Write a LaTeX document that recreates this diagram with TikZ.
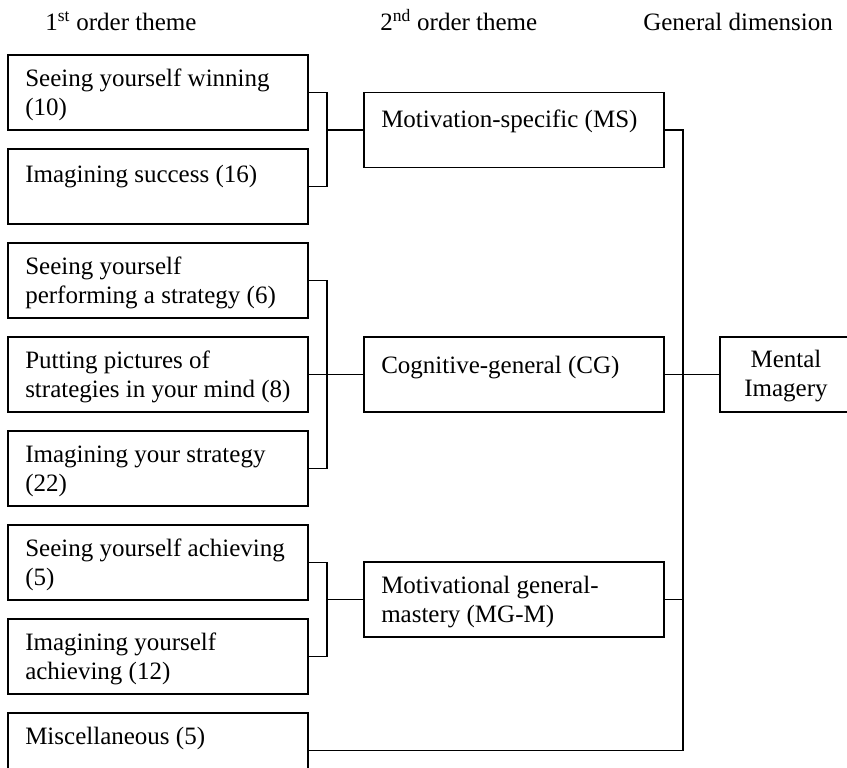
\documentclass[tikz,border=0pt]{standalone}
\usepackage{fontspec}
\setmainfont{Liberation Serif}
\begin{document}
\begin{tikzpicture}[x=0.75pt,y=-0.75pt,
  box/.style={draw, line width=1.2pt, rectangle, minimum width=225pt, minimum height=56.25pt, anchor=north west, inner sep=0pt, outer sep=0pt},
  mbox/.style={draw, line width=1.2pt, rectangle, minimum width=99pt, minimum height=56.25pt, anchor=north west, inner sep=0pt, outer sep=0pt},
  txt/.style={anchor=north west, inner sep=0pt, align=left, font=\fontsize{18.75}{21.75}\selectfont},
  ctxt/.style={anchor=north, inner sep=0pt, align=center, font=\fontsize{18.75}{21.75}\selectfont},
  head/.style={anchor=base west, inner sep=0pt, font=\fontsize{18.75}{21.75}\selectfont},
  conn/.style={line width=1.2pt}]
\useasboundingbox (0,0) rectangle (847,768);
\clip (0,0) rectangle (847,768);
% headings
\node[head] (h1) at (45,30) {1\textsuperscript{st} order theme};
\node[head] (h2) at (380,30) {2\textsuperscript{nd} order theme};
\node[head] (h3) at (643,30) {General dimension};
% first order boxes
\node[box] (b1) at (8,55) {};
\node[txt] (t1) at (25,66.2) {\strut Seeing yourself winning\\(10)};
\node[box] (b2) at (8,149) {};
\node[txt] (t2) at (25,161.7) {\strut Imagining success (16)};
\node[box] (b3) at (8,243) {};
\node[txt] (t3) at (25,254.2) {\strut Seeing yourself\\performing a strategy (6)};
\node[box] (b4) at (8,337) {};
\node[txt] (t4) at (25,348.2) {\strut Putting pictures of\\strategies in your mind (8)};
\node[box] (b5) at (8,431) {};
\node[txt] (t5) at (25,442.2) {\strut Imagining your strategy\\(22)};
\node[box] (b6) at (8,525) {};
\node[txt] (t6) at (25,536.2) {\strut Seeing yourself achieving\\(5)};
\node[box] (b7) at (8,619) {};
\node[txt] (t7) at (25,630.2) {\strut Imagining yourself\\achieving (12)};
\node[box] (b8) at (8,713) {};
\node[txt] (t8) at (25,723.7) {\strut Miscellaneous (5)};
% second order boxes
\node[box] (ms) at (364,92.5) {};
\node[txt] (tms) at (381,107.2) {\strut Motivation-specific (MS)};
\node[box] (cg) at (364,337) {};
\node[txt] (tcg) at (381,353.2) {\strut Cognitive-general (CG)};
\node[box] (mg) at (364,562) {};
\node[txt] (tmg) at (381,573.2) {\strut Motivational general-\\mastery (MG-M)};
% general dimension
\node[mbox] (mi) at (720,337) {};
\node[ctxt] (tmi) at (786,347.2) {\strut Mental\\Imagery};
% connectors
\coordinate (jx) at (327,0);
\coordinate (rx) at (683,0);
\draw[conn] (b1.east) -| (jx |- ms.west) |- (b2.east);
\draw[conn] (jx |- ms.west) -- (ms.west);
\draw[conn] (b3.east) -| (jx |- cg.west) |- (b5.east);
\draw[conn] (b4.east) -- (cg.west);
\draw[conn] (b6.east) -| (jx |- mg.west) |- (b7.east);
\draw[conn] (jx |- mg.west) -- (mg.west);
\draw[conn] (ms.east) -| (rx |- b8.east) -- (b8.east);
\draw[conn] (mg.east) -- (mg.east -| rx);
\draw[conn] (cg.east) -- (mi.west);
\end{tikzpicture}
\end{document}
